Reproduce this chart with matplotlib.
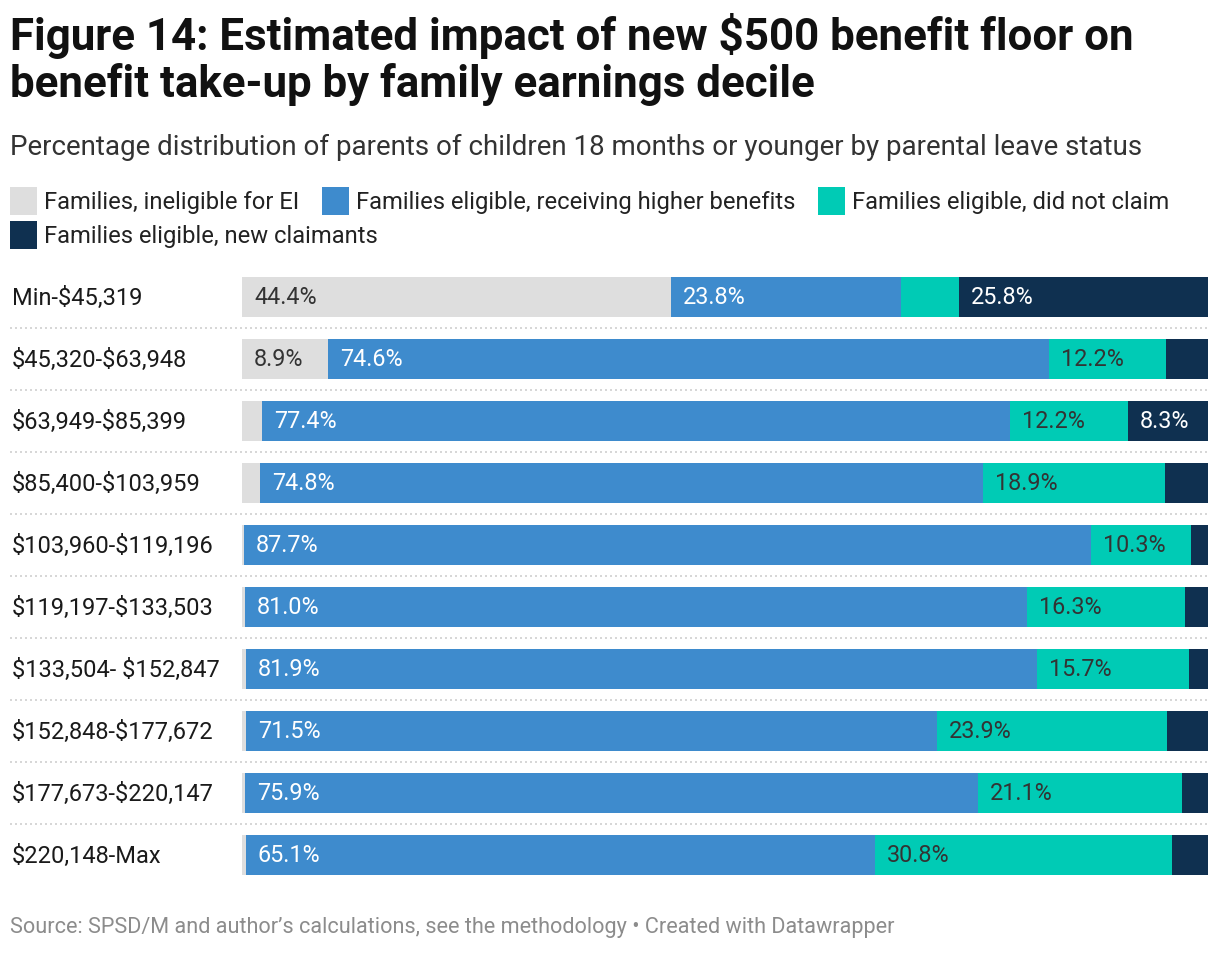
import matplotlib.pyplot as plt
from matplotlib.patches import Rectangle
from matplotlib.transforms import blended_transform_factory
import numpy as np

plt.rcParams["font.family"] = ["Roboto", "DejaVu Sans"]
plt.rcParams["text.parse_math"] = False

DECILES = [
    "Min-$45,319", "$45,320-$63,948", "$63,949-$85,399", "$85,400-$103,959",
    "$103,960-$119,196", "$119,197-$133,503", "$133,504- $152,847",
    "$152,848-$177,672", "$177,673-$220,147", "$220,148-Max",
]
INELIGIBLE = [44.4, 8.9, 2.1, 1.9, 0.2, 0.3, 0.4, 0.4, 0.3, 0.4]
HIGHER = [23.8, 74.6, 77.4, 74.8, 87.7, 81.0, 81.9, 71.5, 75.9, 65.1]
NOT_CLAIMED = [6.0, 12.2, 12.2, 18.9, 10.3, 16.3, 15.7, 23.9, 21.1, 30.8]
NEW_CLAIMANTS = [25.8, 4.3, 8.3, 4.4, 1.8, 2.4, 2.0, 4.2, 2.7, 3.7]

SERIES = [
    ("Families, ineligible for EI", INELIGIBLE, "#dedede", "#333333"),
    ("Families eligible, receiving higher benefits", HIGHER, "#3e8bcd", "white"),
    ("Families eligible, did not claim", NOT_CLAIMED, "#00cbb5", "#333333"),
    ("Families eligible, new claimants", NEW_CLAIMANTS, "#0f3050", "white"),
]

W, H = 1220, 954
fig = plt.figure(figsize=(W / 100, H / 100), dpi=100)
ax = fig.add_axes([242 / W, 1 - 887 / H, 966 / W, 620 / H])

y = np.arange(len(DECILES))
left = np.zeros(len(DECILES))
for name, vals, color, tcolor in SERIES:
    vals = np.array(vals)
    ax.barh(y, vals, left=left, height=0.645, color=color, linewidth=0)
    for yi, (l, v) in enumerate(zip(left, vals)):
        if v >= 8:
            ax.text(l + 1.25, yi, f"{v:.1f}%", va="center", ha="left",
                    fontsize=16.8, color=tcolor)
    left += vals

ax.set_xlim(0, 100)
ax.set_ylim(len(DECILES) - 0.5, -0.5)
ax.axis("off")

# row labels and dotted separators
tr = blended_transform_factory(fig.transFigure, ax.transData)
for yi, lab in enumerate(DECILES):
    ax.text(12 / W, yi, lab, transform=tr, va="center", ha="left",
            fontsize=17, color="#1a1a1a")
    if yi < len(DECILES) - 1:
        ax.plot([10 / W, 1208 / W], [yi + 0.5, yi + 0.5], transform=tr,
                color="#d0d0d0", linestyle=(0, (1.2, 1.8)), linewidth=1.2,
                clip_on=False)

# titles
fig.text(10 / W, 1 - 36 / H, "Figure 14: Estimated impact of new $500 benefit floor on",
         fontsize=31.6, fontweight="bold", va="center", ha="left", color="#111111")
fig.text(10 / W, 1 - 85 / H, "benefit take-up by family earnings decile",
         fontsize=31.6, fontweight="bold", va="center", ha="left", color="#111111")
fig.text(10 / W, 1 - 147 / H,
         "Percentage distribution of parents of children 18 months or younger by parental leave status",
         fontsize=20, va="center", ha="left", color="#333333")

# legend
legend_pos = [(10, 202), (322, 202), (818, 202), (10, 236)]
for (name, _, color, _), (lx, ly) in zip(SERIES, legend_pos):
    fig.patches.append(Rectangle((lx / W, 1 - (ly + 14) / H), 27 / W, 28 / H,
                                 transform=fig.transFigure, facecolor=color,
                                 linewidth=0))
    fig.text((lx + 34) / W, 1 - ly / H, name, fontsize=17.1, va="center",
             ha="left", color="#222222")

fig.text(10 / W, 1 - 928 / H,
         "Source: SPSD/M and author\u2019s calculations, see the methodology \u2022 Created with Datawrapper",
         fontsize=15.6, va="center", ha="left", color="#8c8c8c")

fig.savefig("out.png", dpi=100)
